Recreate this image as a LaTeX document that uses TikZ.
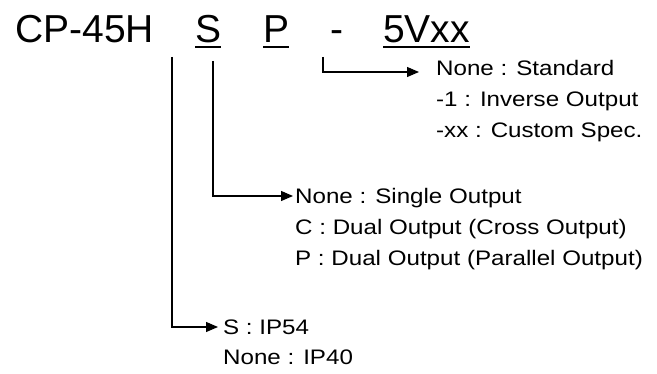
\documentclass[tikz,border=0pt]{standalone}
\usepackage{fontspec}
\setmainfont{Liberation Sans}
\newfontfamily\smallfont[FakeStretch=1.15]{Liberation Sans}
\usetikzlibrary{arrows.meta}
\begin{document}
\begin{tikzpicture}[x=1pt,y=-1pt,
  big/.style={font=\fontsize{39}{39}\selectfont, inner sep=0pt, anchor=base west},
  item/.style={font=\smallfont\fontsize{21}{21}\selectfont, inner sep=0pt, anchor=base west},
  ul/.style={line width=2.5pt},
  lead/.style={line width=1.1pt, -{Triangle[length=12pt,width=10pt]}}]
\useasboundingbox (0,0) rectangle (657,374);
% model code
\node[big] (model) at (15,43) {CP-45H};
\node[big] (s) at (195,43) {S};
\node[big] (p) at (263,43) {P};
\node[big] (dash) at (330,43) {-};
\node[big] (volt) at (383,43) {5Vxx};
\foreach \n in {s,p,volt}
  \draw[ul] ([yshift=-4pt]\n.base west) -- ([yshift=-4pt]\n.base east);
% option lists
\node[item] (std) at (436,76) {None : Standard};
\node[item] (inv) at (436,107) {-1 : Inverse Output};
\node[item] (cus) at (436,138) {-xx : Custom Spec.};
\node[item] (single) at (295,204) {None : Single Output};
\node[item] (cross) at (295,235) {C : Dual Output (Cross Output)};
\node[item] (para) at (295,266) {P : Dual Output (Parallel Output)};
\node[item] (ip54) at (223,335) {S : IP54};
\node[item] (ip40) at (223,365) {None : IP40};
% connectors
\coordinate (t1) at (172,57);
\coordinate (t2) at (213,61);
\coordinate (t3) at (323,57);
\draw[lead, shorten >=5pt] (t1) |- ([yshift=8pt]ip54.base west);
\draw[lead, shorten >=2pt] (t2) |- ([yshift=8pt]single.base west);
\draw[lead, shorten >=17pt] (t3) |- ([yshift=4pt]std.base west);
\end{tikzpicture}
\end{document}
